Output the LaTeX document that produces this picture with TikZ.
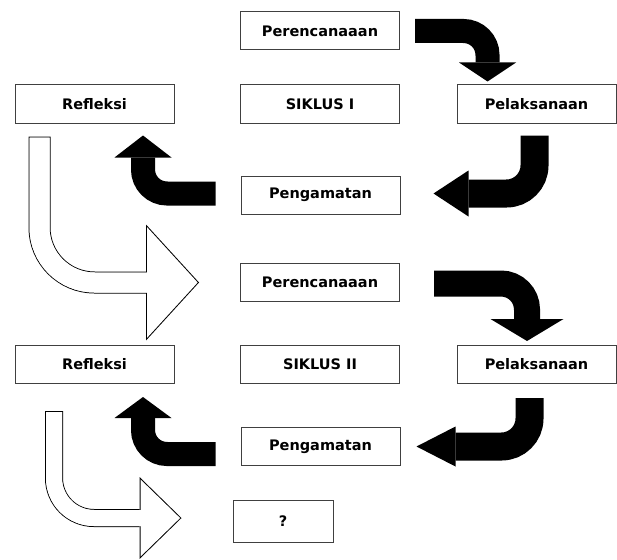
\documentclass[tikz,border=0pt]{standalone}
\usepackage{fontspec}
\newfontfamily\boxfont{DejaVu Sans}
\usetikzlibrary{calc,arrows.meta}

\tikzset{
  box/.style={draw=black!75, line width=1pt, fill=white, inner sep=0pt,
    minimum width=159pt, minimum height=38pt,
    font=\boxfont\bfseries\fontsize{14.5}{17}\selectfont},
  bend/.style n args={4}{line width=#1, rounded corners=#2,
    arrows={-Triangle[length=#3, width=#4, line width=0pt]}}
}

\begin{document}
\begin{tikzpicture}[x=1pt,y=-1pt]
\useasboundingbox (0,0) rectangle (617,559);
% siklus I
\node[box] (per1) at (320,31) {Perencanaaan};
\node[box] (sik1) at (320,104) {SIKLUS I};
\node[box] (pel1) at (536.5,104) {Pelaksanaan};
\node[box] (ref1) at (94.5,104) {Refleksi};
\node[box] (pen1) at (320.5,195) {Pengamatan};
% siklus II
\node[box] (per2) at (320,282.5) {Perencanaaan};
\node[box] (sik2) at (320,364.5) {SIKLUS II};
\node[box] (pel2) at (536.5,364.5) {Pelaksanaan};
\node[box] (ref2) at (94.5,364.5) {Refleksi};
\node[box] (pen2) at (320.5,446.5) {Pengamatan};
\node[box, minimum width=100pt, minimum height=42pt] (q) at (283,521) {?};

% black bent arrows
\draw[bend={24pt}{24pt}{19pt}{57pt}] ($(per1.east)+(15,0)$) -| ($(pel1.north)+(-49,-3)$);
\draw[bend={28pt}{28pt}{35pt}{46pt}] ($(pel1.south)+(-2,12)$) |- ($(pen1.east)+(33,-1.5)$);
\draw[bend={24pt}{24pt}{22pt}{57pt}] ($(pen1.west)+(-25,-1.5)$) -| ($(ref1.south)+(48.5,12)$);
\draw[bend={26pt}{26pt}{22pt}{73pt}] ($(per2.east)+(34,1)$) -| ($(pel2.north)+(-9.5,-4)$);
\draw[bend={28pt}{28pt}{39pt}{40pt}] ($(pel2.south)+(-7,14)$) |- ($(pen2.east)+(16,0)$);
\draw[bend={24pt}{24pt}{21pt}{57pt}] ($(pen2.west)+(-25,7.5)$) -| ($(ref2.south)+(48.5,13)$);

% hollow arrows to the next cycle
\draw[bend={22pt}{55pt}{53pt}{116pt},
  postaction={draw=white, line width=20pt, shorten <=1pt, shorten >=1.35pt,
    arrows={-Triangle[length=50.65pt, width=110.8pt, line width=0pt]}},
  postaction={draw=white, line width=20pt, shorten <=1pt, shorten >=45pt, arrows={-}}]
  ($(ref1.south west)+(25,13)$) |- ($(per2.west)+(-41,0)$);
\draw[bend={18pt}{40pt}{42pt}{82pt},
  postaction={draw=white, line width=16pt, shorten <=1pt, shorten >=1.43pt,
    arrows={-Triangle[length=39.57pt, width=77.2pt, line width=0pt]}},
  postaction={draw=white, line width=16pt, shorten <=1pt, shorten >=36pt, arrows={-}}]
  ($(ref2.south west)+(39.5,27)$) |- ($(q.west)+(-51,-3)$);
\end{tikzpicture}
\end{document}
